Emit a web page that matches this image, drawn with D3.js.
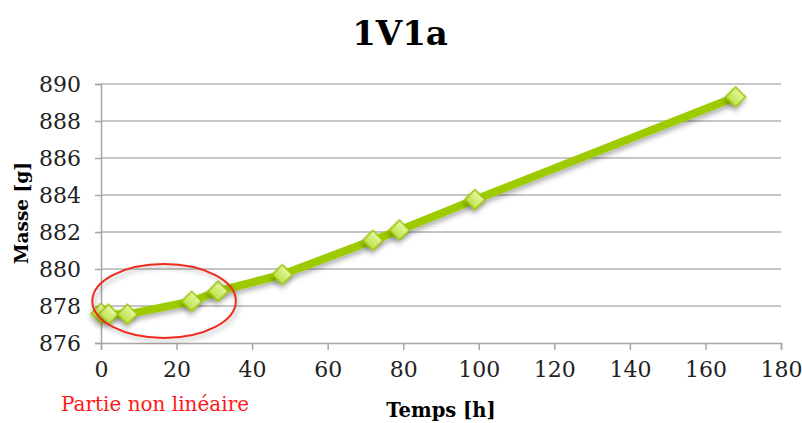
<!DOCTYPE html>
<html>
<head>
<meta charset="utf-8">
<script src="https://cdn.jsdelivr.net/npm/d3@7"></script>
<style>
  body { margin: 0; background: #fff; }
  svg { display: block; }
</style>
</head>
<body>
<div id="chart-area"></div>
<script>
var hours = [0, 2, 7, 24, 31, 48, 72, 79, 99, 168];
var masses = [877.6, 877.55, 877.55, 878.25, 878.8, 879.7, 881.55, 882.1, 883.75, 889.3];
var xTicks = [0, 20, 40, 60, 80, 100, 120, 140, 160, 180];
var yTicks = [876, 878, 880, 882, 884, 886, 888, 890];

var data = hours.map(function (h, i) {
  return { t: h, m: masses[i] };
});

var W = 802, H = 423;
var margin = { left: 101, right: 21, top: 84, bottom: 80 };
var width = W - margin.left - margin.right;
var height = H - margin.top - margin.bottom;
var font = "'DejaVu Serif', 'Liberation Serif', serif";

var xscale = d3.scaleLinear().domain([0, 180]).range([0, width]);
var yscale = d3.scaleLinear().domain([876, 890]).range([height, 0]);

var svg = d3.select("#chart-area").append("svg")
  .attr("width", W).attr("height", H);

var defs = svg.append("defs");
var f = defs.append("filter").attr("id", "shadow")
  .attr("x", "-50%").attr("y", "-50%").attr("width", "200%").attr("height", "200%");
f.append("feDropShadow").attr("dx", 2).attr("dy", 3).attr("stdDeviation", 2.5)
  .attr("flood-color", "#000").attr("flood-opacity", 0.3);
var grad = defs.append("linearGradient").attr("id", "diam")
  .attr("x1", 0).attr("y1", 0).attr("x2", 0).attr("y2", 1);
grad.append("stop").attr("offset", "0%").attr("stop-color", "#e4f7a0");
grad.append("stop").attr("offset", "100%").attr("stop-color", "#bde24a");

var g = svg.append("g")
  .attr("transform", "translate(" + margin.left + "," + margin.top + ")");

// title
svg.append("text")
  .attr("x", 400).attr("y", 45)
  .attr("text-anchor", "middle")
  .attr("font-family", font).attr("font-weight", "bold")
  .attr("font-size", "34px")
  .text("1V1a");

// gridlines
g.append("g").selectAll("line").data(yTicks.slice(1)).enter().append("line")
  .attr("x1", 0).attr("x2", width)
  .attr("y1", function (d) { return yscale(d); })
  .attr("y2", function (d) { return yscale(d); })
  .attr("stroke", "#b3b3b3").attr("stroke-width", 1.5);

// y axis
var yAxis = d3.axisLeft(yscale).tickValues(yTicks).tickSize(6).tickPadding(14);
var ya = g.append("g").call(yAxis);
ya.select(".domain").attr("stroke", "#a6a6a6").attr("stroke-width", 1.5);
ya.selectAll(".tick line").attr("stroke", "#a6a6a6").attr("stroke-width", 1.5);
ya.selectAll("text").attr("font-family", font).attr("font-size", "22px").attr("fill", "#222");

// x axis
var xAxis = d3.axisBottom(xscale).tickValues(xTicks).tickSize(7).tickSizeOuter(7).tickPadding(11);
var xa = g.append("g").attr("transform", "translate(0," + height + ")").call(xAxis);
xa.select(".domain").attr("stroke", "#a6a6a6").attr("stroke-width", 1.5);
xa.selectAll(".tick line").attr("stroke", "#a6a6a6").attr("stroke-width", 1.5);
xa.selectAll("text").attr("font-family", font).attr("font-size", "22px").attr("fill", "#222");

// axis titles
svg.append("text")
  .attr("transform", "translate(28,213) rotate(-90)")
  .attr("text-anchor", "middle")
  .attr("font-family", font).attr("font-weight", "bold")
  .attr("font-size", "18.5px")
  .text("Masse [g]");

svg.append("text")
  .attr("x", 441).attr("y", 417)
  .attr("text-anchor", "middle")
  .attr("font-family", font).attr("font-weight", "bold")
  .attr("font-size", "19.5px")
  .text("Temps [h]");

svg.append("text")
  .attr("x", 61).attr("y", 411)
  .attr("font-family", font)
  .attr("font-size", "20px")
  .attr("fill", "#ff1a1a")
  .text("Partie non linéaire");

// series line
var line = d3.line()
  .x(function (d) { return xscale(d.t); })
  .y(function (d) { return yscale(d.m); });

g.append("path").datum(data)
  .attr("d", line)
  .attr("fill", "none")
  .attr("stroke", "#9dcb00")
  .attr("stroke-width", 8)
  .attr("stroke-linejoin", "round")
  .attr("filter", "url(#shadow)");

// diamond markers
g.selectAll(".pt").data(data).enter().append("path")
  .attr("class", "pt")
  .attr("d", d3.symbol().type(d3.symbolSquare).size(200))
  .attr("transform", function (d) {
    return "translate(" + xscale(d.t) + "," + yscale(d.m) + ") rotate(45)";
  })
  .attr("fill", "url(#diam)")
  .attr("stroke", "#9cc400")
  .attr("stroke-width", 1.5)
  .attr("filter", "url(#shadow)");

// annotation ellipse around the non-linear start
g.append("ellipse")
  .attr("cx", xscale(16.7)).attr("cy", yscale(878.27))
  .attr("rx", xscale(19) - xscale(0))
  .attr("ry", yscale(876) - yscale(878))
  .attr("fill", "none")
  .attr("stroke", "#ee2b1c")
  .attr("stroke-width", 2)
  .attr("filter", "url(#shadow)");
</script>
</body>
</html>
